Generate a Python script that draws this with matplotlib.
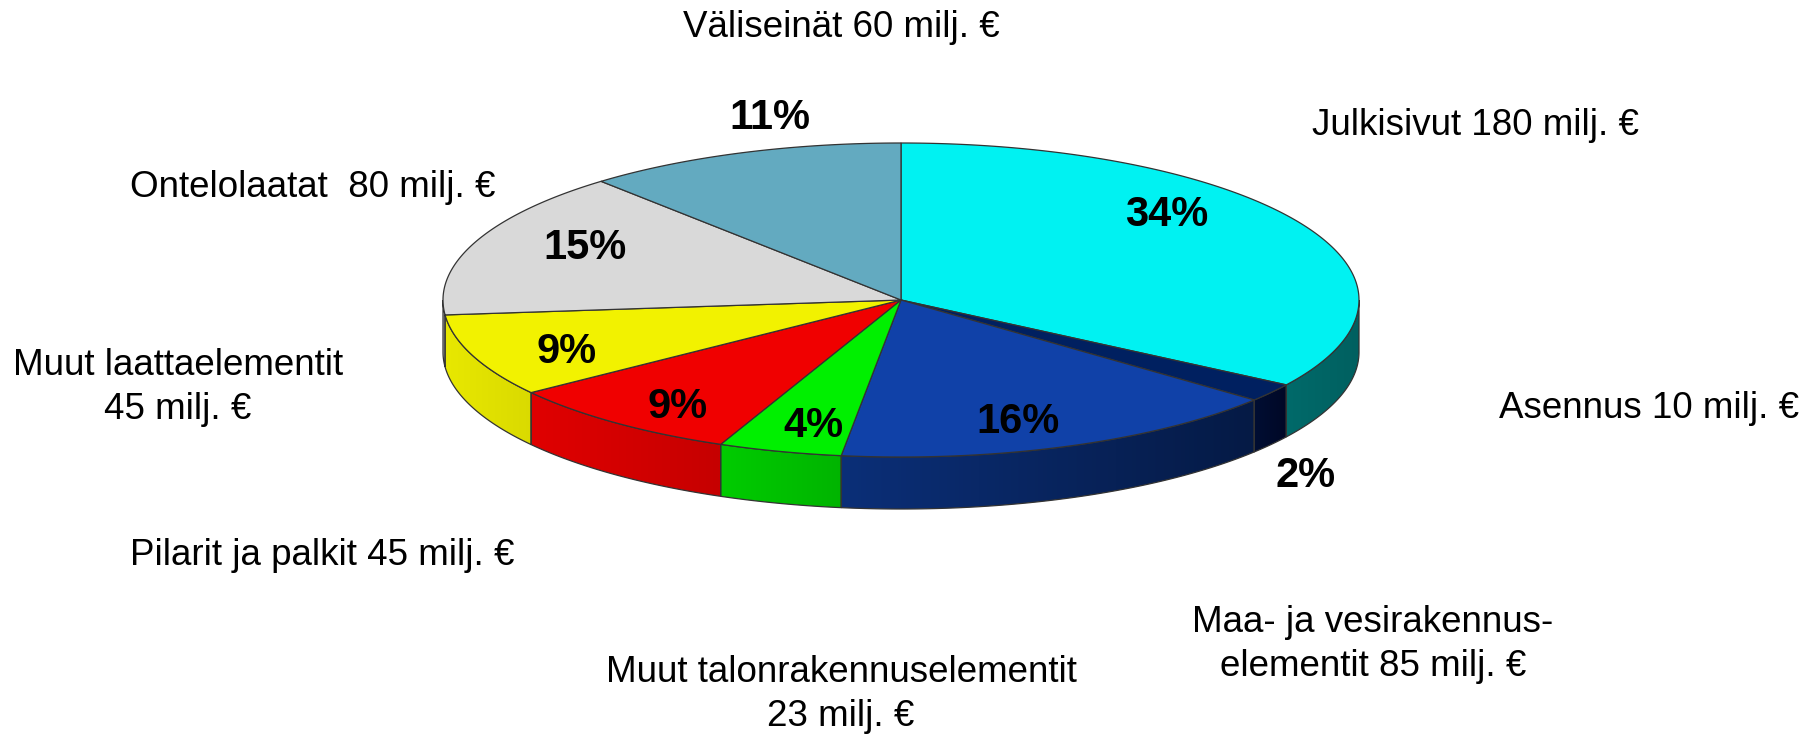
import numpy as np
import matplotlib.pyplot as plt
from matplotlib.patches import Polygon
from matplotlib.colors import to_rgb

# Data (clockwise from 12 o'clock)
names = ["Julkisivut", "Asennus", "Maa- ja vesirakennuselementit",
         "Muut talonrakennuselementit", "Pilarit ja palkit",
         "Muut laattaelementit", "Ontelolaatat", "Väliseinät"]
values = [180, 10, 85, 23, 45, 45, 80, 60]  # milj. €
labels = ["Julkisivut 180 milj. €", "Asennus 10 milj. €",
          "Maa- ja vesirakennus-\nelementit 85 milj. €",
          "Muut talonrakennuselementit\n23 milj. €",
          "Pilarit ja palkit 45 milj. €",
          "Muut laattaelementit\n45 milj. €",
          "Ontelolaatat  80 milj. €", "Väliseinät 60 milj. €"]

# Styling
top_colors = ["#00F2F2", "#002060", "#1041A8", "#00F000",
              "#F00000", "#F2F200", "#D9D9D9", "#63AAC0"]
side_colors = [("#006A6A", "#006060"), ("#000E33", "#000826"),
               ("#0B2F78", "#051A45"), ("#00CC00", "#00B400"),
               ("#E00000", "#C60000"), ("#E8E800", "#DADA00"),
               ("#C8C8C8", "#BEBEBE"), ("#4E8FA3", "#44808F")]

# Layout (pixels)
cx, cy, rx, ry, depth = 901, 300, 458, 157, 52
pct_pos = [(1167, 226), (1306, 487), (1018, 433), (813, 437),
           (678, 418), (567, 363), (585, 259), (770, 129)]
label_pos = [(1475, 135), (1649, 418), (1373, 632), (841, 682),
             (322, 565), (178, 375), (313, 197), (841, 37)]
line_gap = 44

plt.rcParams['font.family'] = ['Liberation Sans', 'DejaVu Sans']

fig = plt.figure(figsize=(18.16, 7.34), dpi=100)
ax = fig.add_axes([0, 0, 1, 1])
ax.set_xlim(0, 1816)
ax.set_ylim(734, 0)
ax.axis('off')


def pt(theta, dy=0.0):
    t = np.radians(theta)
    return np.column_stack([cx + rx * np.cos(t), cy - ry * np.sin(t) + dy])


total = sum(values)
fracs = np.array(values) / total
starts = 90 - 360 * np.concatenate([[0], np.cumsum(fracs)[:-1]])
ends = starts - 360 * fracs

edge = "#333333"
lw = 0.9

# Side walls (front half only: angles between -180 and 0)
for i in range(len(values)):
    a0, a1 = min(starts[i], 0), max(ends[i], -180)
    if a0 <= a1:
        continue
    th = np.linspace(a0, a1, 120)
    upper = pt(th)
    lower = pt(th[::-1], depth)
    verts = np.vstack([upper, lower])
    poly = Polygon(verts, closed=True, facecolor="none", edgecolor=edge, lw=lw, zorder=3)
    ax.add_patch(poly)
    c1, c2 = np.array(to_rgb(side_colors[i][0])), np.array(to_rgb(side_colors[i][1]))
    grad = np.linspace(0, 1, 256)[None, :, None]
    img = c1 + (c2 - c1) * grad
    xmin, xmax = verts[:, 0].min(), verts[:, 0].max()
    ymin, ymax = verts[:, 1].min(), verts[:, 1].max()
    im = ax.imshow(img, extent=(xmin, xmax, ymax, ymin), aspect='auto',
                   interpolation='bilinear', zorder=2)
    im.set_clip_path(poly)

# Top faces
for i in range(len(values)):
    th = np.linspace(starts[i], ends[i], 200)
    verts = np.vstack([[cx, cy], pt(th)])
    ax.add_patch(Polygon(verts, closed=True, facecolor=top_colors[i],
                         edgecolor=edge, lw=lw, zorder=4))

# Percentage labels
for i, v in enumerate(values):
    x, y = pct_pos[i]
    ax.text(x, y, f"{round(v / total * 100)}%", ha='center', va='baseline',
            fontsize=30, fontweight='bold', color='black', zorder=6)

# Category labels
for lab, (x, y) in zip(labels, label_pos):
    for k, line in enumerate(lab.split("\n")):
        ax.text(x, y + k * line_gap, line, ha='center', va='baseline',
                fontsize=26.5, color='black', zorder=6)

ax.set_xlim(0, 1816)
ax.set_ylim(734, 0)
fig.savefig("out.png", dpi=100, facecolor="white")
